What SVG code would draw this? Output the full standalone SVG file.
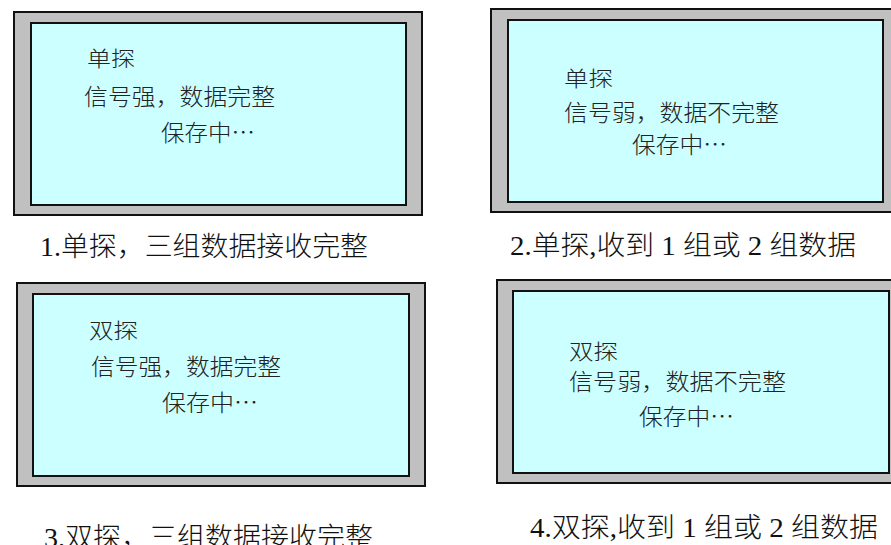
<svg xmlns="http://www.w3.org/2000/svg" width="891" height="545" viewBox="0 0 891 545">
<style>
.outer{fill:#c0c0c0;stroke:#111;stroke-width:2}
.inner{fill:#ccffff;stroke:#111;stroke-width:2}
.t{font-family:"Noto Sans CJK SC","Liberation Sans",sans-serif;fill:#222;font-weight:300}
.l1{font-size:21px}
.l2{font-size:23px}
.cap{font-family:"Liberation Serif","Noto Sans CJK SC",serif;font-size:27px;fill:#111;font-weight:300}
</style>
<rect width="891" height="545" fill="#fff"/>
<g id="panel1">
<rect class="outer" x="14" y="12" width="408" height="203"/>
<rect class="inner" x="31" y="23" width="375" height="182"/>
<text class="t l1" x="87" y="66" textLength="48" lengthAdjust="spacingAndGlyphs">单探</text>
<text class="t l2" x="84" y="105" textLength="191" lengthAdjust="spacingAndGlyphs">信号强，数据完整</text>
<text class="t l2" x="161" y="141" textLength="94" lengthAdjust="spacingAndGlyphs">保存中…</text>
<text class="cap" x="40" y="256" textLength="328" lengthAdjust="spacingAndGlyphs">1.单探，三组数据接收完整</text>
</g>
<g id="panel2">
<rect class="outer" x="491" y="9" width="412" height="203"/>
<rect class="inner" x="508" y="20" width="375" height="182"/>
<text class="t l1" x="564" y="86" textLength="49" lengthAdjust="spacingAndGlyphs">单探</text>
<text class="t l2" x="564" y="121" textLength="215" lengthAdjust="spacingAndGlyphs">信号弱，数据不完整</text>
<text class="t l2" x="632" y="153" textLength="95" lengthAdjust="spacingAndGlyphs">保存中…</text>
<text class="cap" x="510" y="255" textLength="346" lengthAdjust="spacingAndGlyphs">2.单探,收到 1 组或 2 组数据</text>
</g>
<g id="panel3">
<rect class="outer" x="17" y="283" width="408" height="203"/>
<rect class="inner" x="33" y="294" width="376" height="182"/>
<text class="t l1" x="89" y="338" textLength="49" lengthAdjust="spacingAndGlyphs">双探</text>
<text class="t l2" x="91" y="375" textLength="190" lengthAdjust="spacingAndGlyphs">信号强，数据完整</text>
<text class="t l2" x="162" y="411" textLength="96" lengthAdjust="spacingAndGlyphs">保存中…</text>
<text class="cap" x="44" y="547" textLength="329" lengthAdjust="spacingAndGlyphs">3.双探，三组数据接收完整</text>
</g>
<g id="panel4">
<rect class="outer" x="497" y="280" width="412" height="203"/>
<rect class="inner" x="513" y="291" width="376" height="182"/>
<text class="t l1" x="569" y="359" textLength="49" lengthAdjust="spacingAndGlyphs">双探</text>
<text class="t l2" x="569" y="390" textLength="217" lengthAdjust="spacingAndGlyphs">信号弱，数据不完整</text>
<text class="t l2" x="639" y="425" textLength="95" lengthAdjust="spacingAndGlyphs">保存中…</text>
<text class="cap" x="530" y="537" textLength="348" lengthAdjust="spacingAndGlyphs">4.双探,收到 1 组或 2 组数据</text>
</g>
</svg>
